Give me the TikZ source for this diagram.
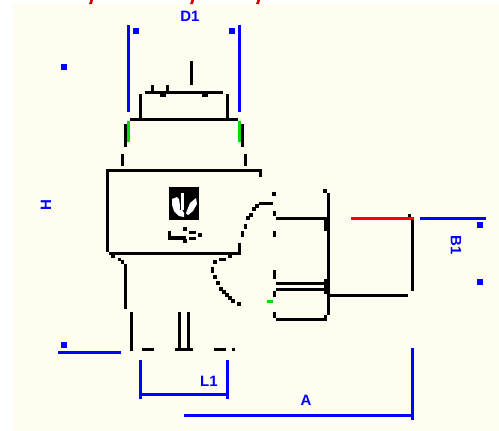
\documentclass[tikz,border=0pt]{standalone}
\usepackage{fontspec}
\setmainfont{Liberation Sans}
\definecolor{cream}{HTML}{FFFCF0}
\definecolor{dimblue}{HTML}{0000FF}
\definecolor{hotgreen}{HTML}{00E000}
\tikzset{
  ink/.style={line width=3.2pt,black},
  thin ink/.style={line width=2.8pt,black},
  dimline/.style={line width=3.2pt,dimblue},
  greenline/.style={line width=3pt,hotgreen},
  redline/.style={line width=3pt,red},
  dimlabel/.style={text=dimblue,font=\fontsize{15}{15}\selectfont\bfseries,inner sep=0pt},
}
\newcommand{\bluedot}[2]{\fill[dimblue] (#1-3,#2-3) rectangle (#1+3,#2+3);}
\newcommand{\inkdots}[1]{\foreach \px/\py in {#1} {\fill[black] (\px-1.7,\py-1.7) rectangle (\px+1.7,\py+1.7);}}
\begin{document}
\begin{tikzpicture}[x=1pt,y=-1pt]
\useasboundingbox (0,0) rectangle (499,431);
\fill[white] (0,0) rectangle (499,431);
\fill[cream] (13,4) rectangle (499,431);
% red ticks at the top edge
\foreach \tx in {89,190,256} {\fill[red!80!black] (\tx,4) -- (\tx+3,4) -- (\tx+4,0) -- (\tx+1.5,0) -- cycle;}
% blue dimension lines
\draw[dimline] (128.5,25) -- (128.5,112);
\draw[dimline] (239.5,25) -- (239.5,112);
\draw[dimline] (58,352.5) -- (121,352.5);
\draw[dimline] (140.5,360) -- (140.5,399);
\draw[dimline] (227.5,360) -- (227.5,399);
\draw[dimline] (140,394.5) -- (228,394.5);
\draw[dimline] (184,415.5) -- (414,415.5);
\draw[dimline] (412.5,348) -- (412.5,420);
\draw[dimline] (420,218.5) -- (486,218.5);
\bluedot{136}{31}\bluedot{232}{31}\bluedot{64}{67}\bluedot{64}{345}\bluedot{480}{225}\bluedot{480}{282}
% labels
\node[dimlabel] (lblD) at (190,16) {D1};
\node[dimlabel,rotate=90] (lblH) at (46,205) {H};
\node[dimlabel,rotate=-90] (lblB) at (456,245.5) {B1};
\node[dimlabel] (lblL) at (209,381) {L1};
\node[dimlabel] (lblA) at (306,400) {A};
% upper part
\draw[ink] (191.5,61) -- (191.5,85);
\draw[ink] (145,92.5) -- (223,92.5);
\draw[ink] (152.5,85) -- (152.5,92);
\draw[ink] (167.5,85) -- (167.5,92);
\fill[black] (160,93) rectangle (166,97);
\fill[black] (202,93) rectangle (208,97);
\draw[ink] (140.5,94) -- (140.5,118);
\draw[ink] (227.5,94) -- (227.5,118);
\draw[ink] (130,119.5) -- (238,119.5);
\draw[greenline] (128.5,121) -- (128.5,142);
\draw[greenline] (239.5,121) -- (239.5,142);
\draw[ink] (125.5,124) -- (125.5,147);
\draw[ink] (242.5,124) -- (242.5,147);
\draw[ink] (122.5,154) -- (122.5,166);
\draw[ink] (245.5,154) -- (245.5,166);
% body
\draw[ink] (106,170.5) -- (261.5,170.5);
\draw[ink] (260.5,170) -- (260.5,177);
\draw[ink] (107.5,169) -- (107.5,252);
\draw[ink] (109,253.5) -- (241,253.5);
\draw[ink] (239.5,243) -- (239.5,253);
% logo
\fill[black] (169,187) rectangle (199,220);
\fill[white] (172,199) -- (177,197) -- (179,199) -- (180,206) -- (184,213) -- (184,217) -- (179,216) -- (174,211) -- (172,205) -- cycle;
\fill[white] (181,193) rectangle (183.5,210);
\fill[white] (196,198) -- (197,204) -- (193,211) -- (188,215) -- (186,213) -- (190,203) -- cycle;
\fill[black] (179.5,200) rectangle (181,210);
% marks under the logo
\draw[thin ink] (169.5,231) -- (169.5,239);
\draw[ink] (168,238) -- (186,238);
\fill[black] (189,231) rectangle (196,233.5);
\fill[black] (189,237) rectangle (196,239.5);
\inkdots{185/229,185/241,200/235}
% neck and base
\inkdots{113/256,119.5/259.5,122.5/262}
\draw[ink] (125.5,264) -- (125.5,309);
\draw[ink] (131.5,312) -- (131.5,351);
\draw[ink] (179.5,312) -- (179.5,349);
\draw[ink] (188.5,312) -- (188.5,349);
\draw[ink] (142,349.5) -- (154,349.5);
\draw[ink] (175,349.5) -- (193,349.5);
\draw[ink] (214,349.5) -- (226,349.5);
\draw[ink] (232,349.5) -- (235,349.5);
% dotted arcs
\inkdots{230/256,215/262,215/277,218/283,221/289,224/292,227/295,230/298,233/301,239/304}
\draw[ink] (219,259.5) -- (226,259.5);
\draw[ink] (212.5,267) -- (212.5,273);
\draw[ink] (242.5,231) -- (242.5,237);
\draw[ink] (245.5,224) -- (245.5,229);
\inkdots{274/194,257/206,254/209,251/215,248/218}
\draw[ink] (259,203.5) -- (273,203.5);
% right assembly
\draw[ink] (274.5,211) -- (274.5,216);
\draw[ink] (274.5,231) -- (274.5,237);
\draw[ink] (276,218.5) -- (328,218.5);
\draw[ink] (328.5,193) -- (328.5,315);
\inkdots{325/191}
\fill[black] (324,219) rectangle (327,231);
\fill[black] (324,279) rectangle (327,294);
\draw[ink] (276,283.5) -- (325,283.5);
\draw[ink] (276,289.5) -- (325,289.5);
\draw[ink] (274.5,270) -- (274.5,279);
\draw[ink] (274.5,291) -- (274.5,297);
\draw[ink] (274.5,312) -- (274.5,318);
\draw[greenline] (267,301.5) -- (273,301.5);
\draw[ink] (276,319.5) -- (327,319.5);
\fill[black] (324,315) rectangle (327,319);
\draw[ink] (328,295.5) -- (408,295.5);
\draw[redline] (351,218.5) -- (414,218.5);
\draw[ink] (412.5,220) -- (412.5,291);
\inkdots{409.5/215.5}
\end{tikzpicture}
\end{document}
